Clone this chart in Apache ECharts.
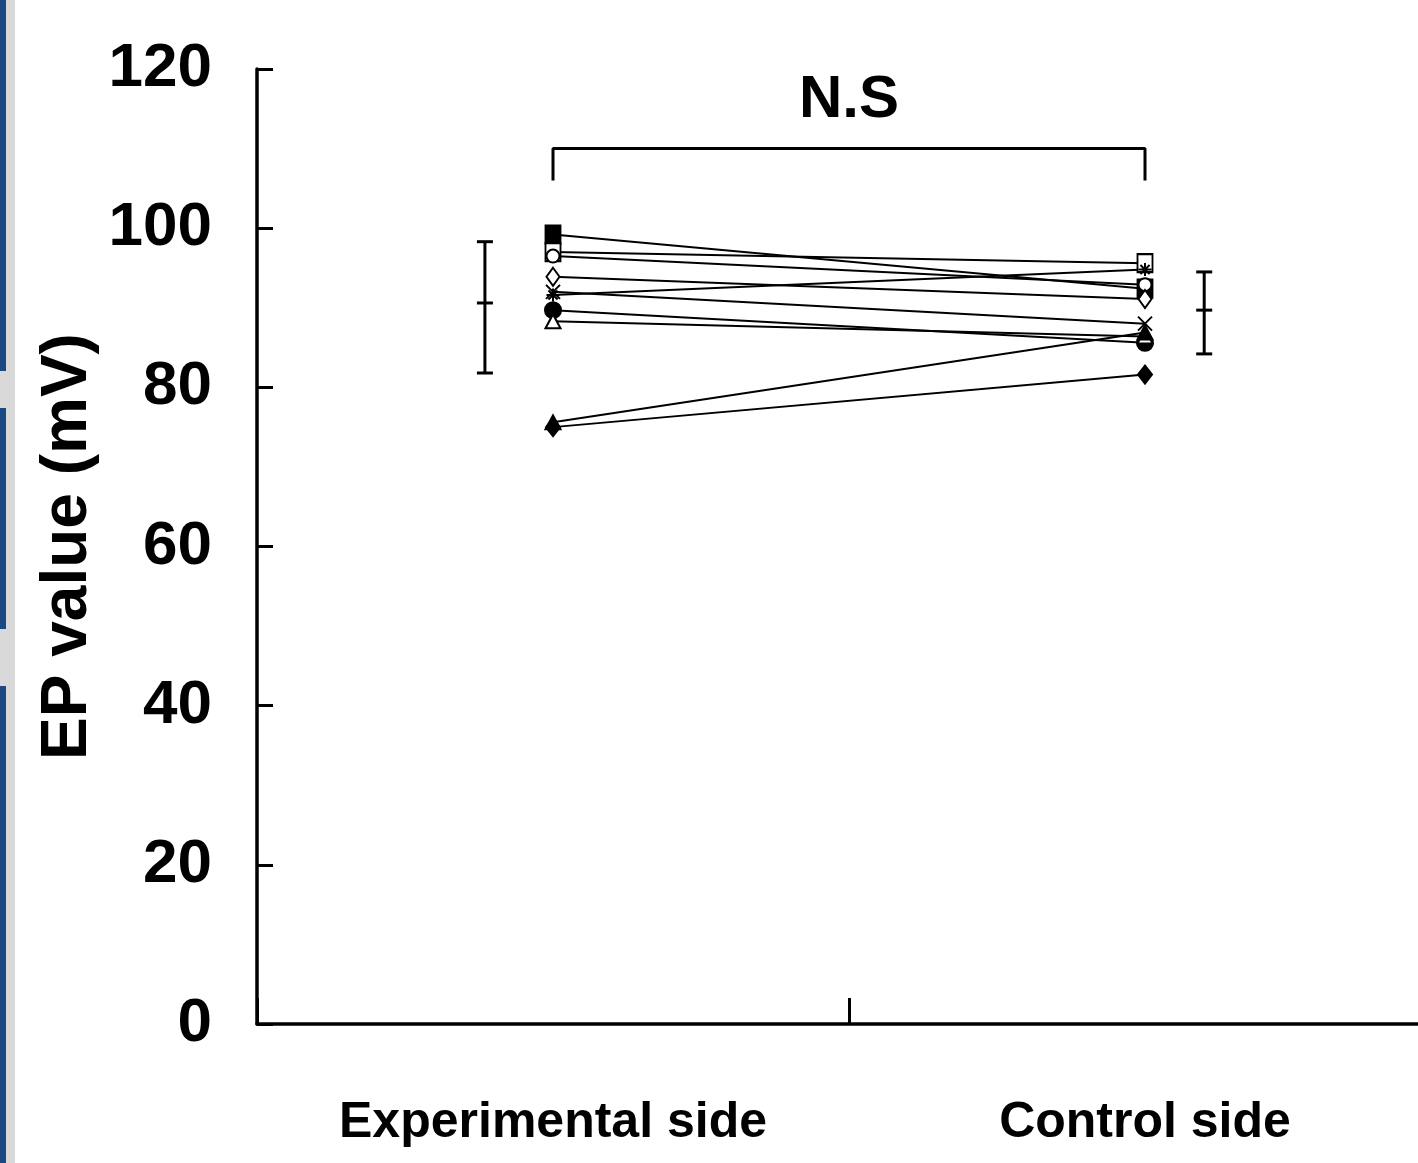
<!DOCTYPE html>
<html>
<head>
<meta charset="utf-8">
<title>EP value</title>
<script src="https://cdn.jsdelivr.net/npm/echarts@6/dist/echarts.min.js"></script>
<style>
  html, body { margin: 0; padding: 0; background: #fff; overflow: hidden; }
  #chart { width: 1441px; height: 1163px; }
</style>
</head>
<body>
<div id="chart"></div>
<script>
// categories
var sides = ['Experimental side', 'Control side'];
// EP value (mV) of each subject, experimental side / control side
var expValues = [99.2, 97.0, 96.5, 93.9, 91.6, 92.0, 89.7, 88.3, 75.6, 75.0];
var ctrlValues = [92.4, 95.6, 92.9, 91.1, 94.8, 88.0, 85.6, 86.4, 86.9, 81.6];
// mean and range bars
var errX = [0.77, 3.2];
var errMean = [90.6, 89.7];
var errLow = [81.8, 84.2];
var errHigh = [98.3, 94.5];
// N.S bracket
var bracketX = [1, 1, 3, 3];
var bracketY = [106, 110, 110, 106];
var nsPos = [2, 116];

var boldFont = '"Liberation Sans", Arial, sans-serif';
var crossPath = 'path://M0,0 L10,10 M10,0 L0,10';
var starPath = 'path://M5,0 L5,10 M0,5 L10,5 M1.5,1.5 L8.5,8.5 M8.5,1.5 L1.5,8.5';

// marker style of each subject
var markers = [
  { symbol: 'rect', size: [15, 18], fill: '#000' },
  { symbol: 'rect', size: [15, 18], fill: '#fff' },
  { symbol: 'circle', size: 13, fill: '#fff' },
  { symbol: 'diamond', size: [13, 18], fill: '#fff' },
  { symbol: starPath, size: 13, fill: 'none' },
  { symbol: crossPath, size: 14, fill: 'none' },
  { symbol: 'circle', size: 16, fill: '#000' },
  { symbol: 'triangle', size: [15, 14], fill: '#fff' },
  { symbol: 'triangle', size: [15, 14], fill: '#000' },
  { symbol: 'diamond', size: [14, 18], fill: '#000' }
];

var chart = echarts.init(document.getElementById('chart'));

var series = expValues.map(function (v, i) {
  return {
    type: 'line',
    xAxisIndex: 0,
    data: [v, ctrlValues[i]],
    symbol: markers[i].symbol,
    symbolSize: markers[i].size,
    showAllSymbol: true,
    lineStyle: { color: '#000', width: 2 },
    itemStyle: { color: markers[i].fill, borderColor: '#000', borderWidth: 2 },
    emphasis: { disabled: true },
    z: 3
  };
});

// mean +- range
series.push({
  type: 'custom',
  xAxisIndex: 1,
  data: errX.map(function (x, i) { return [x, errLow[i], errHigh[i], errMean[i]]; }),
  renderItem: function (params, api) {
    var x = api.value(0);
    var lo = api.coord([x, api.value(1)]);
    var hi = api.coord([x, api.value(2)]);
    var m = api.coord([x, api.value(3)]);
    var w = 8;
    var st = { stroke: '#000', lineWidth: 3 };
    return {
      type: 'group',
      children: [
        { type: 'line', shape: { x1: lo[0], y1: lo[1], x2: hi[0], y2: hi[1] }, style: st },
        { type: 'line', shape: { x1: hi[0] - w, y1: hi[1], x2: hi[0] + w, y2: hi[1] }, style: st },
        { type: 'line', shape: { x1: lo[0] - w, y1: lo[1], x2: lo[0] + w, y2: lo[1] }, style: st },
        { type: 'line', shape: { x1: m[0] - w, y1: m[1], x2: m[0] + w, y2: m[1] }, style: st }
      ]
    };
  },
  z: 2
});

// N.S bracket
series.push({
  type: 'line',
  xAxisIndex: 1,
  data: bracketX.map(function (x, i) { return [x, bracketY[i]]; }),
  symbol: 'none',
  lineStyle: { color: '#000', width: 3 },
  emphasis: { disabled: true }
});
series.push({
  type: 'scatter',
  xAxisIndex: 1,
  data: [nsPos],
  symbolSize: 1,
  itemStyle: { color: 'rgba(0,0,0,0)', opacity: 1 },
  emphasis: { disabled: true },
  label: {
    show: true,
    position: 'inside',
    formatter: 'N.S',
    color: '#000',
    fontSize: 60,
    fontWeight: 'bold',
    fontFamily: boldFont
  }
});

chart.setOption({
  animation: false,
  backgroundColor: '#fff',
  grid: { left: 257, top: 69, bottom: 139, right: 0, containLabel: false },
  xAxis: [
    {
      type: 'category',
      data: sides,
      boundaryGap: true,
      axisLine: { lineStyle: { color: '#000', width: 3.5 } },
      axisTick: { show: true, inside: true, interval: 0, length: 26, lineStyle: { color: '#000', width: 3 } },
      axisLabel: { color: '#000', interval: 0, fontSize: 50, fontWeight: 'bold', fontFamily: boldFont, margin: 74 },
      splitLine: { show: false }
    },
    { type: 'value', min: 0, max: 4, show: false }
  ],
  yAxis: {
    type: 'value',
    min: 0,
    max: 120,
    interval: 20,
    name: 'EP value (mV)',
    nameLocation: 'middle',
    nameGap: 157,
    nameMoveOverlap: false,
    nameTextStyle: { color: '#000', fontSize: 64, fontWeight: 'bold', fontFamily: boldFont },
    axisLine: { show: true, lineStyle: { color: '#000', width: 3.5 } },
    axisTick: { show: true, inside: true, length: 16, lineStyle: { color: '#000', width: 3 } },
    axisLabel: { color: '#000', fontSize: 62, fontWeight: 'bold', fontFamily: boldFont, margin: 45 },
    splitLine: { show: false }
  },
  graphic: [
    { type: 'rect', left: 0, top: 0, shape: { width: 15, height: 1163 }, style: { fill: '#d9d9d9' } },
    { type: 'rect', left: 0, top: 0, shape: { width: 6, height: 371 }, style: { fill: '#1b4a82' } },
    { type: 'rect', left: 0, top: 408, shape: { width: 6, height: 221 }, style: { fill: '#1b4a82' } },
    { type: 'rect', left: 0, top: 686, shape: { width: 6, height: 477 }, style: { fill: '#1b4a82' } }
  ],
  series: series
});
</script>
</body>
</html>
